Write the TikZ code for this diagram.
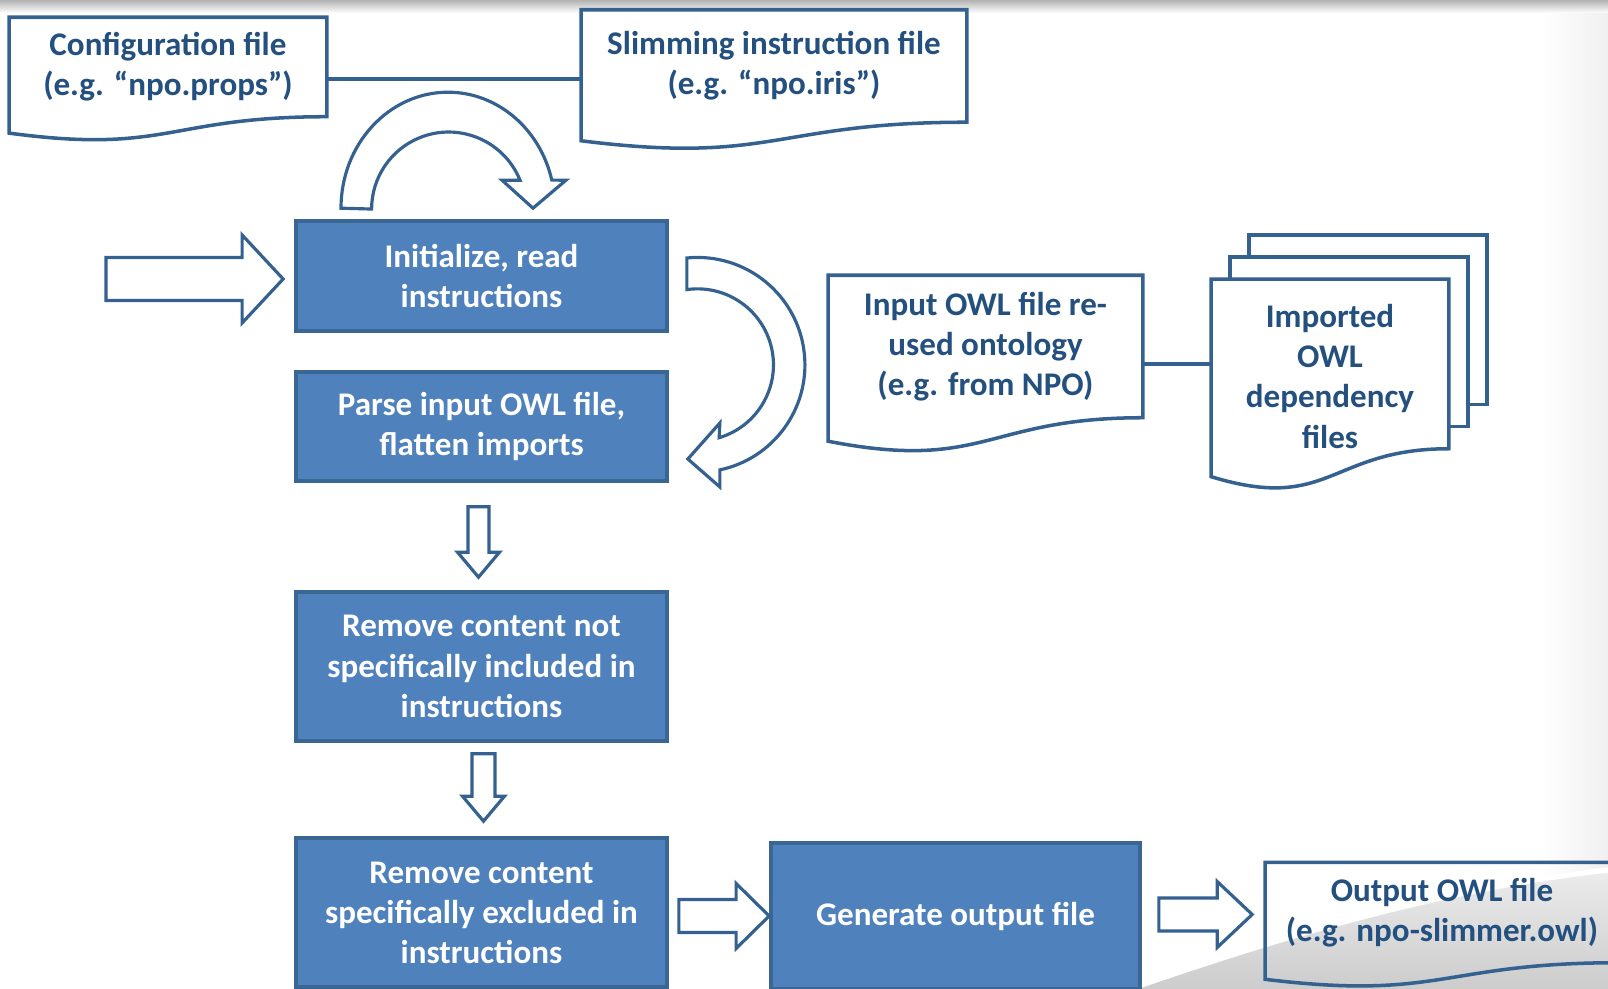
\documentclass[tikz,border=0pt]{standalone}
\usepackage{fontspec}
\setmainfont{Carlito}
\usepackage{xcolor}
\usetikzlibrary{calc}

\definecolor{procfill}{HTML}{4F81BD}
\definecolor{procline}{HTML}{3A6694}
\definecolor{docline}{HTML}{34618F}
\definecolor{doctext}{HTML}{24507F}

\pgfdeclarelayer{bg}
\pgfdeclarelayer{docs}
\pgfsetlayers{bg,docs,main}

\tikzset{
  proc/.style={draw=procline, fill=procfill, line width=1pt, text=white, align=center,
    inner sep=0pt, minimum width=3.71cm, font=\fontsize{9.4}{11.4}\selectfont\bfseries},
  docnode/.style={align=center, inner sep=0pt, text=doctext,
    font=\fontsize{9.4}{11.4}\selectfont\bfseries},
  docline/.style={draw=docline, line width=1pt},
  blockarrow/.style={draw=docline, fill=white, line width=0.9pt, line join=miter}
}

% wavy bottom of a document node
\newcommand{\docoutline}[2][fill=white]{%
  \draw[docline,#1] (#2.north west) -- (#2.north east) -- (#2.south east)
    .. controls (#2.south) and ($(#2.south)!-0.38!(#2.north)$)
    .. ($(#2.south west)!-0.165!(#2.north west)$) -- cycle;}
% hollow block arrows
\newcommand{\rblock}[5]{%
  \draw[blockarrow] let \p1=#1, \p2=#2 in
    (\x1,\y1+#3) -- (\x2-#5,\y1+#3) -- (\x2-#5,\y1+#4) -- (\x2,\y1)
    -- (\x2-#5,\y1-#4) -- (\x2-#5,\y1-#3) -- (\x1,\y1-#3) -- cycle;}
\newcommand{\dblock}[5]{%
  \draw[blockarrow] let \p1=#1, \p2=#2 in
    (\x1-#3,\y1) -- (\x1-#3,\y2+#5) -- (\x1-#4,\y2+#5) -- (\x1,\y2)
    -- (\x1+#4,\y2+#5) -- (\x1+#3,\y2+#5) -- (\x1+#3,\y1) -- cycle;}

\begin{document}
\begin{tikzpicture}[x=0.01cm, y=-0.01cm]
  \useasboundingbox (0,0) rectangle (1608,989);
  % background
  \begin{pgfonlayer}{bg}
    \fill[white] (0,0) rectangle (1608,989);
    \shade[left color=white, right color=gray!12] (1540,0) rectangle (1608,989);
    \shade[top color=gray!60, bottom color=white] (0,0) rectangle (1608,13);
    \shade[top color=gray!15, bottom color=gray!40] (1130,989) .. controls (1300,930) and (1450,888) .. (1608,870) -- (1608,989) -- cycle;
    \draw[white, line width=1.5pt] (1130,989) .. controls (1300,930) and (1450,888) .. (1608,870);
  \end{pgfonlayer}

  % process steps
  \node[proc, minimum height=1.10cm] (init) at (481.5,276) {Initialize, read\\instructions};
  \node[proc, minimum height=1.09cm] (parse) at (481.5,426.5) {Parse input OWL file,\\flatten imports};
  \node[proc, minimum height=1.49cm] (remin) at (481.5,666.5) {Remove content not\\specifically included in\\instructions};
  \node[proc, minimum height=1.49cm] (remex) at (481.5,912.5) {Remove content\\specifically excluded in\\instructions};
  \node[proc, minimum width=3.69cm, minimum height=1.46cm] (gen) at (955.5,916) {Generate output file};

  % documents
  \node[docnode, minimum width=3.16cm, minimum height=0.98cm] (conf) at (168,67) {Configuration file\\(e.g. ``npo.props'')};
  \node[docnode, minimum width=3.84cm, minimum height=1.11cm] (slim) at (774,66) {Slimming instruction file\\(e.g. ``npo.iris'')};
  \node[docnode, minimum width=3.13cm, minimum height=1.41cm] (inp) at (985.5,346.5) {Input OWL file re-\\used ontology\\(e.g. from NPO)};
  \node[docnode, minimum width=2.36cm, text height=1.68cm, text depth=0cm] (imp) at (1330,364) {Imported\\OWL\\dependency\\files};
  \node[docnode, minimum width=3.52cm, minimum height=0.99cm] (out) at (1442,912.5) {Output OWL file\\(e.g. npo-slimmer.owl)};
  \begin{pgfonlayer}{docs}
    \docoutline{conf}
    \docoutline{slim}
    \docoutline{inp}
    % stacked files
    \draw[docline, fill=white] ($(imp.north west)+(38,-44)$) rectangle ($(imp.south east)+(38,-44)$);
    \draw[docline, fill=white] ($(imp.north west)+(19,-22)$) rectangle ($(imp.south east)+(19,-22)$);
    \docoutline{imp}
    \docoutline[fill=none]{out}
  \end{pgfonlayer}

  % plain connectors
  \coordinate (cs) at ($(conf.east)+(0,12)$);
  \draw[docline] (cs) -- (cs -| slim.west);
  \draw[docline] (imp.west -| inp.east) -- (imp.west);

  % straight block arrows
  \coordinate (inarrow) at (106,279);
  \rblock{(inarrow)}{($(init.west)+(-11,3)$)}{0.215cm}{0.44cm}{0.41cm}
  \dblock{($(parse.south)+(-3,24)$)}{($(remin.north)+(-3,-13)$)}{0.105cm}{0.21cm}{0.25cm}
  \dblock{($(remin.south)+(2,11)$)}{($(remex.north)+(2,-15)$)}{0.115cm}{0.21cm}{0.25cm}
  \rblock{($(remex.east)+(10,3.5)$)}{(gen.west)}{0.165cm}{0.325cm}{0.33cm}
  \rblock{($(gen.east)+(17,-1.5)$)}{($(out.west)+(-13,2)$)}{0.165cm}{0.33cm}{0.35cm}

  % loop arrow above init
  \begin{scope}[shift={($(init.north)+(-33.5,-11)$)}]
    \draw[blockarrow] (-107,0) arc[start angle=180, end angle=346, x radius=107, y radius=116]
      -- (118,-28) -- (85,0) -- (54,-28) -- (72,-28)
      arc[start angle=338, end angle=180, radius=77] -- cycle;
  \end{scope}
  % curved arrow from init to parse
  \begin{scope}[shift={($(init.east)+(28.6,88.9)$)}]
    \draw[blockarrow] (-10.6,-106.9) arc[start angle=-95.7, end angle=78, radius=107.4]
      -- (22.4,122.1) -- (-9.6,94.1) -- (22.4,58.1) -- (21.7,72.8)
      arc[start angle=73.4, end angle=-98, radius=76] -- cycle;
  \end{scope}
\end{tikzpicture}
\end{document}
